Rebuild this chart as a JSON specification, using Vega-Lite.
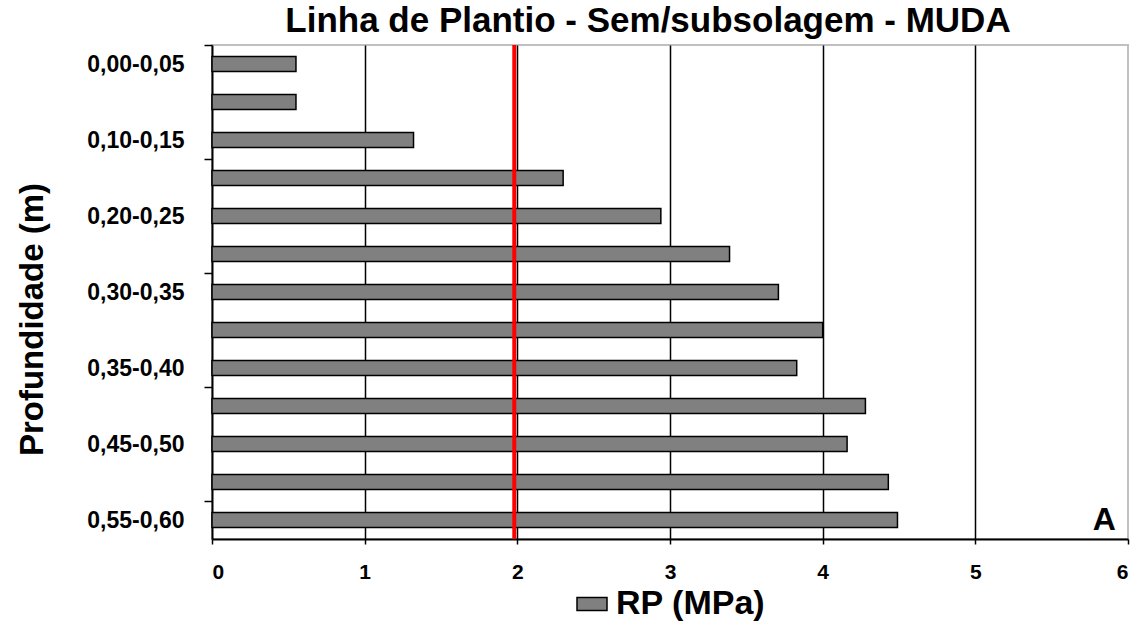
{
  "$schema": "https://vega.github.io/schema/vega-lite/v6.json",
  "width": 916,
  "height": 494,
  "autosize": "none",
  "padding": {"left": 212, "top": 45, "right": 14, "bottom": 82},
  "background": "white",
  "config": {
    "font": "Liberation Sans",
    "view": {"stroke": "#c0c0c0", "strokeWidth": 2}
  },
  "title": {
    "text": "Linha de Plantio - Sem/subsolagem - MUDA",
    "font": "Liberation Sans",
    "fontSize": 35,
    "fontWeight": "bold",
    "color": "black",
    "anchor": "middle",
    "frame": "group",
    "dx": -22,
    "baseline": "bottom",
    "offset": -31
  },
  "datasets": {
    "rp": [
      {"prof": "0,00-0,05", "rp": 0.55},
      {"prof": "0,05-0,10", "rp": 0.55},
      {"prof": "0,10-0,15", "rp": 1.32},
      {"prof": "0,15-0,20", "rp": 2.30},
      {"prof": "0,20-0,25", "rp": 2.94},
      {"prof": "0,25-0,30", "rp": 3.39},
      {"prof": "0,30-0,35", "rp": 3.71},
      {"prof": "0,33-0,38", "rp": 4.00},
      {"prof": "0,35-0,40", "rp": 3.83},
      {"prof": "0,40-0,45", "rp": 4.28},
      {"prof": "0,45-0,50", "rp": 4.16},
      {"prof": "0,50-0,55", "rp": 4.43},
      {"prof": "0,55-0,60", "rp": 4.49}
    ],
    "limite": [{"limite": 1.98}],
    "marca": [{"rotulo": "A", "x": 5.92, "prof": "0,55-0,60"}]
  },
  "layer": [
    {
      "data": {"name": "rp"},
      "mark": {"type": "bar", "stroke": "black", "strokeWidth": 1.5},
      "encoding": {
        "y": {
          "field": "prof",
          "type": "nominal",
          "sort": ["0,00-0,05","0,05-0,10","0,10-0,15","0,15-0,20","0,20-0,25","0,25-0,30","0,30-0,35","0,33-0,38","0,35-0,40","0,40-0,45","0,45-0,50","0,50-0,55","0,55-0,60"],
          "scale": {"paddingInner": 0.6, "paddingOuter": 0.3},
          "title": "Profundidade (m)",
          "axis": {
            "domainColor": "black",
            "domainWidth": 2,
            "tickColor": "black",
            "tickWidth": 1.5,
            "tickSize": 8,
            "tickOffset": -19,
            "labelOffset": 19,
            "tickOpacity": {"condition": {"test": "indexof(['0,00-0,05','0,15-0,20','0,30-0,35','0,40-0,45','0,55-0,60'], datum.value) >= 0", "value": 1}, "value": 0},
            "labelExpr": "indexof(['0,00-0,05','0,10-0,15','0,20-0,25','0,30-0,35','0,35-0,40','0,45-0,50','0,55-0,60'], datum.value) >= 0 ? datum.value : ''",
            "labelFont": "Liberation Sans",
            "labelFontSize": 23,
            "labelFontWeight": "bold",
            "labelColor": "black",
            "labelPadding": 20,
            "titleFont": "Liberation Sans",
            "titleFontSize": 33,
            "titleFontWeight": "bold",
            "titleColor": "black",
            "titleX": -170,
            "titleY": 274,
            "titleBaseline": "alphabetic",
            "titleAlign": "center"
          }
        },
        "x": {
          "field": "rp",
          "type": "quantitative",
          "scale": {"domain": [0, 6], "nice": false},
          "title": null,
          "axis": {
            "values": [0, 1, 2, 3, 4, 5, 6],
            "format": "d",
            "grid": true,
            "gridColor": {"condition": {"test": "datum.value == 0 || datum.value == 6", "value": "transparent"}, "value": "black"},
            "gridWidth": 1.5,
            "domainColor": "black",
            "domainWidth": 2,
            "tickColor": "black",
            "tickWidth": 1.5,
            "tickSize": 5,
            "labelFont": "Liberation Sans",
            "labelFontSize": 21,
            "labelFontWeight": "bold",
            "labelColor": "black",
            "labelPadding": 17
          }
        },
        "color": {
          "datum": "RP (MPa)",
          "type": "nominal",
          "scale": {"range": ["#808080"]},
          "legend": {
            "title": null,
            "orient": "none",
            "legendX": 363,
            "legendY": 542,
            "padding": 0,
            "symbolType": "M-1,-0.433H1V0.433H-1Z",
            "symbolSize": 900,
            "symbolFillColor": "#808080",
            "symbolStrokeColor": "black",
            "symbolStrokeWidth": 1.5,
            "symbolOpacity": 1,
            "labelFont": "Liberation Sans",
            "labelFontSize": 34,
            "labelFontWeight": "bold",
            "labelColor": "black",
            "labelOffset": 7
          }
        }
      }
    },
    {
      "data": {"name": "limite"},
      "mark": {"type": "rule", "color": "#ff0000", "strokeWidth": 4},
      "encoding": {
        "x": {"field": "limite", "type": "quantitative"}
      }
    },
    {
      "data": {"name": "marca"},
      "mark": {"type": "text", "align": "right", "baseline": "middle", "font": "Liberation Sans", "fontSize": 32, "fontWeight": "bold", "color": "black"},
      "encoding": {
        "x": {"field": "x", "type": "quantitative"},
        "y": {"field": "prof", "type": "nominal"},
        "text": {"field": "rotulo"}
      }
    }
  ]
}
